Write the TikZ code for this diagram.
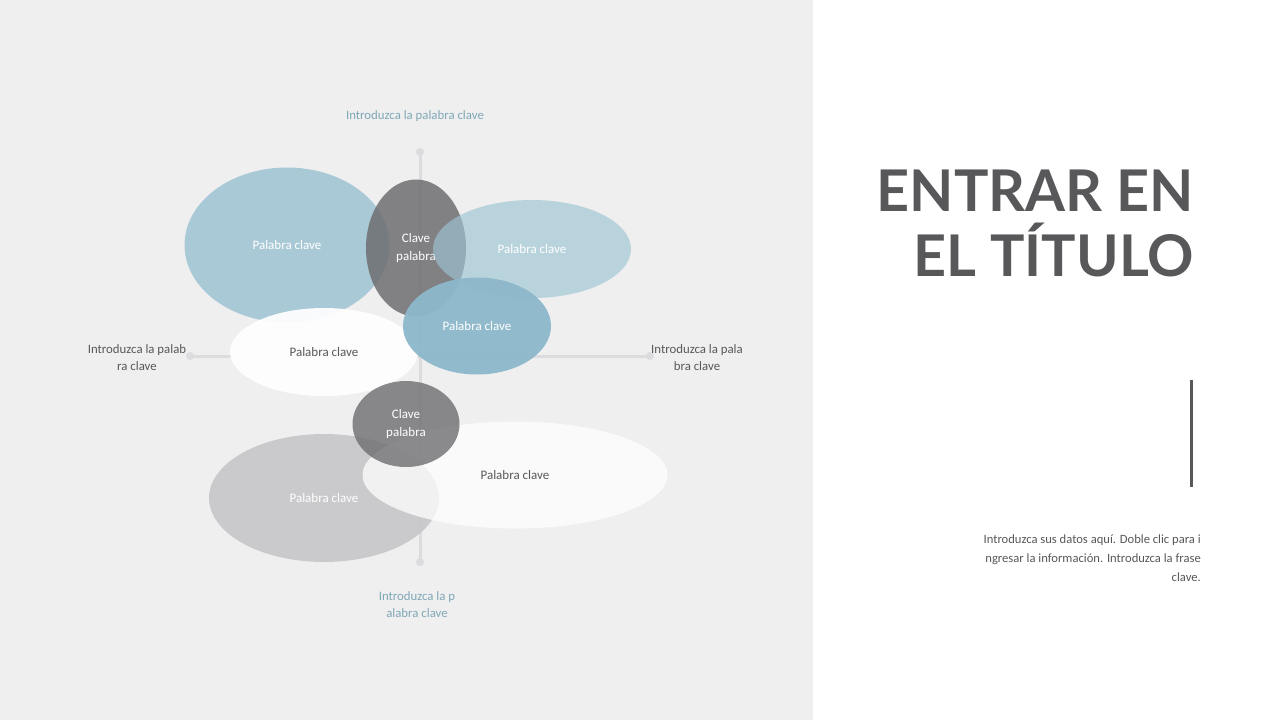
\documentclass[tikz,border=0pt]{standalone}
\usepackage{fontspec}
\setmainfont{Carlito}
\newfontfamily\titlefont{Lato}
\usetikzlibrary{shapes.geometric,positioning}

\definecolor{panel}{HTML}{EFEFF0}
\definecolor{axisgray}{HTML}{DCDCDF}
\definecolor{bluebig}{HTML}{A6C7D5}
\definecolor{bluelight}{HTML}{9DC4D4}
\definecolor{bluemid}{HTML}{8DB8CB}
\definecolor{darkblob}{HTML}{6E6E71}
\definecolor{grayblob}{HTML}{C9C9CB}
\definecolor{inktext}{HTML}{58585A}
\definecolor{tealtext}{HTML}{7FA7B6}

\begin{document}
\begin{tikzpicture}[x=1pt,y=-1pt,
  blob/.style={ellipse,inner sep=0pt,align=center,text=white,font=\fontsize{13}{18}\selectfont},
  axis/.style={draw=axisgray,line width=3pt},
  dot/.style={circle,fill=axisgray,inner sep=0pt,minimum size=8pt},
  keyword/.style={align=center,text=inktext,font=\fontsize{12.8}{17}\selectfont}]
	  % background panels
	  \fill[white] (0,0) rectangle (1280,720);
	  \fill[panel] (0,0) rectangle (813,720);
	  \useasboundingbox (0,0) rectangle (1280,720);

	  % axes
	  \node[dot] (top)   at (420,152) {};
	  \node[dot] (bot)   at (420,562) {};
	  \node[dot] (west)  at (190,356) {};
	  \node[dot] (east)  at (650,356) {};
	  \draw[axis] (top.center) -- (bot.center);
	  \draw[axis] (west.center) -- (east.center);

	  % bubbles
	  \node[blob,fill=bluebig,fill opacity=0.95,text opacity=1,minimum width=205pt,minimum height=155pt] (B1) at (287,245) {Palabra clave};
	  \node[blob,fill=white,fill opacity=0.92,text opacity=1,text=inktext,minimum width=188pt,minimum height=88pt] (B5) at (324,352) {Palabra clave};
	  \node[blob,fill=darkblob,fill opacity=0.85,text opacity=1,minimum width=100pt,minimum height=137pt] (B2) at (416,248) {Clave\\palabra};
	  \node[blob,fill=bluelight,fill opacity=0.65,text opacity=1,minimum width=198pt,minimum height=98pt] (B3) at (532,249) {Palabra clave};
	  \node[blob,fill=bluemid,fill opacity=0.95,text opacity=1,minimum width=148pt,minimum height=97pt] (B4) at (477,326) {Palabra clave};
	  \node[blob,fill=grayblob,fill opacity=0.95,text opacity=1,minimum width=230pt,minimum height=128pt] (B7) at (324,498) {Palabra clave};
	  \node[blob,fill=white,fill opacity=0.75,text opacity=1,text=inktext,minimum width=305pt,minimum height=107pt] (B8) at (515,475) {Palabra clave};
	  \node[blob,fill=darkblob,fill opacity=0.8,text opacity=1,minimum width=107pt,minimum height=86pt] (B6) at (406,424) {Clave\\palabra};

	  % axis labels
	  \node[keyword,text=tealtext] (ktop)   at (415,116) {Introduzca la palabra clave};
	  \node[keyword,text=tealtext] (kbot)   at (417,605) {Introduzca la p\\alabra clave};
	  \node[keyword]               (kwest)  at (137,358) {Introduzca la palab\\ra clave};
	  \node[keyword]               (keast)  at (697,358) {Introduzca la pala\\bra clave};

	  % title side
	  \node[anchor=base east,inner sep=0pt,text=inktext,font=\titlefont\bfseries\fontsize{57.5}{65}\selectfont] (T1) at (1194,211) {ENTRAR EN};
	  \node[anchor=base east,inner sep=0pt,text=inktext,font=\titlefont\bfseries\fontsize{57.5}{65}\selectfont] (T2) at (1194,276) {EL TÍTULO};
	  \coordinate (barA) at (1191,380);
	  \coordinate (barB) at (1191,487);
	  \draw[inktext,line width=3pt] (barA) -- (barB);
	  \node[keyword,align=right,anchor=north east,inner sep=0pt,font=\fontsize{12.6}{19}\selectfont] (info) at (1201,535)
	    {Introduzca sus datos aquí. Doble clic para i\\ngresar la información. Introduzca la frase\\clave.};
\end{tikzpicture}
\end{document}
